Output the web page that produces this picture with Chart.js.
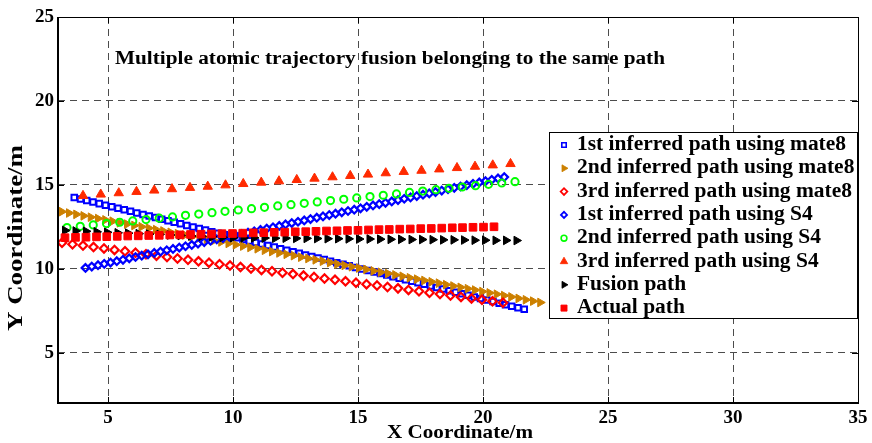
<!DOCTYPE html>
<html><head><meta charset="utf-8">
<script src="https://cdn.jsdelivr.net/npm/chart.js@4/dist/chart.umd.min.js"></script>
<style>html,body{margin:0;padding:0;background:#fff;}#wrap{width:872px;height:443px;}</style>
</head><body><div id="wrap"><canvas id="c" width="872" height="443"></canvas></div>
<script>
// ---------- DATA ----------
const chartTitle = "Multiple atomic trajectory fusion belonging to the same path";
const xAxisTitle = "X Coordinate/m";
const yAxisTitle = "Y Coordinate/m";
const xTickValues = [5, 10, 15, 20, 25, 30, 35];
const yTickValues = [5, 10, 15, 20, 25];
const seriesNames = [
  "1st inferred path using mate8",
  "2nd inferred path using mate8",
  "3rd inferred path using mate8",
  "1st inferred path using S4",
  "2nd inferred path using S4",
  "3rd inferred path using S4",
  "Fusion path",
  "Actual path"
];

const mate8Path1X = [3.65,3.9,4.15,4.4,4.65,4.9,5.15,5.4,5.65,5.9,6.15,6.4,6.65,6.9,7.15,7.4,7.65,7.9,8.15,8.4,8.65,8.9,9.15,9.4,9.65,9.9,10.15,10.4,10.65,10.9,11.15,11.4,11.65,11.9,12.15,12.4,12.65,12.9,13.15,13.4,13.65,13.9,14.15,14.4,14.65,14.9,15.15,15.4,15.65,15.9,16.15,16.4,16.65,16.9,17.15,17.4,17.65,17.9,18.15,18.4,18.65,18.9,19.15,19.4,19.65,19.9,20.15,20.4,20.65,20.9,21.15,21.4,21.65];
const mate8Path1Y = [14.25,14.16,14.06,13.97,13.88,13.79,13.69,13.60,13.51,13.42,13.32,13.23,13.14,13.05,12.95,12.86,12.77,12.68,12.58,12.49,12.40,12.31,12.21,12.12,12.03,11.94,11.84,11.75,11.66,11.57,11.47,11.38,11.29,11.19,11.10,11.01,10.92,10.82,10.73,10.64,10.55,10.45,10.36,10.27,10.18,10.08,9.99,9.90,9.81,9.71,9.62,9.53,9.44,9.34,9.25,9.16,9.07,8.97,8.88,8.79,8.69,8.60,8.51,8.42,8.32,8.23,8.14,8.05,7.95,7.86,7.77,7.68,7.58];

const mate8Path2X = [3.15,3.44,3.73,4.02,4.31,4.60,4.89,5.18,5.47,5.76,6.05,6.34,6.63,6.92,7.21,7.50,7.79,8.08,8.37,8.66,8.95,9.24,9.53,9.82,10.11,10.40,10.69,10.98,11.27,11.56,11.85,12.14,12.43,12.72,13.01,13.30,13.59,13.88,14.17,14.46,14.75,15.04,15.33,15.62,15.91,16.20,16.49,16.78,17.07,17.36,17.65,17.94,18.23,18.52,18.81,19.10,19.39,19.68,19.97,20.26,20.55,20.84,21.13,21.42,21.71,22.00,22.29];
const mate8Path2Y = [13.40,13.32,13.24,13.15,13.07,12.99,12.91,12.83,12.74,12.66,12.58,12.50,12.42,12.33,12.25,12.17,12.09,12.01,11.92,11.84,11.76,11.68,11.60,11.51,11.43,11.35,11.27,11.19,11.10,11.02,10.94,10.86,10.78,10.69,10.61,10.53,10.45,10.37,10.28,10.20,10.12,10.04,9.96,9.87,9.79,9.71,9.63,9.55,9.46,9.38,9.30,9.22,9.14,9.05,8.97,8.89,8.81,8.73,8.64,8.56,8.48,8.40,8.32,8.23,8.15,8.07,7.99];

const mate8Path3X = [3.16,3.58,4.00,4.42,4.84,5.26,5.68,6.10,6.52,6.94,7.36,7.78,8.20,8.62,9.04,9.46,9.88,10.30,10.72,11.14,11.56,11.98,12.40,12.82,13.24,13.66,14.08,14.50,14.92,15.34,15.76,16.18,16.60,17.02,17.44,17.86,18.28,18.70,19.12,19.54,19.96,20.38,20.80];
const mate8Path3Y = [11.55,11.46,11.38,11.29,11.21,11.12,11.04,10.95,10.87,10.78,10.70,10.61,10.53,10.44,10.36,10.27,10.19,10.10,10.02,9.93,9.85,9.76,9.68,9.59,9.51,9.42,9.34,9.25,9.17,9.08,9.00,8.91,8.83,8.74,8.66,8.57,8.49,8.40,8.32,8.23,8.15,8.06,7.97];

const s4Path1X = [4.10,4.35,4.60,4.85,5.10,5.35,5.60,5.85,6.10,6.35,6.60,6.85,7.10,7.35,7.60,7.85,8.10,8.35,8.60,8.85,9.10,9.35,9.60,9.85,10.10,10.35,10.60,10.85,11.10,11.35,11.60,11.85,12.10,12.35,12.60,12.85,13.10,13.35,13.60,13.85,14.10,14.35,14.60,14.85,15.10,15.35,15.60,15.85,16.10,16.35,16.60,16.85,17.10,17.35,17.60,17.85,18.10,18.35,18.60,18.85,19.10,19.35,19.60,19.85,20.10,20.35,20.60,20.85];
const s4Path1Y = [10.05,10.13,10.21,10.29,10.37,10.45,10.53,10.62,10.70,10.78,10.86,10.94,11.02,11.10,11.18,11.26,11.34,11.42,11.50,11.59,11.67,11.75,11.83,11.91,11.99,12.07,12.15,12.23,12.31,12.39,12.47,12.55,12.64,12.72,12.80,12.88,12.96,13.04,13.12,13.20,13.28,13.36,13.44,13.52,13.60,13.69,13.77,13.85,13.93,14.01,14.09,14.17,14.25,14.33,14.41,14.49,14.57,14.66,14.74,14.82,14.90,14.98,15.06,15.14,15.22,15.30,15.38,15.46];

const s4Path2X = [3.36,3.89,4.41,4.94,5.47,5.99,6.52,7.05,7.58,8.10,8.63,9.16,9.68,10.21,10.74,11.26,11.79,12.32,12.85,13.37,13.90,14.43,14.95,15.48,16.01,16.54,17.06,17.59,18.12,18.64,19.17,19.70,20.22,20.75,21.28];
const s4Path2Y = [12.45,12.53,12.61,12.69,12.77,12.85,12.93,13.01,13.09,13.18,13.26,13.34,13.42,13.50,13.58,13.66,13.74,13.82,13.90,13.98,14.06,14.14,14.22,14.30,14.38,14.46,14.55,14.63,14.71,14.79,14.87,14.95,15.03,15.11,15.19];

const s4Path3X = [4.00,4.71,5.43,6.14,6.85,7.56,8.28,8.99,9.70,10.41,11.13,11.84,12.55,13.26,13.98,14.69,15.40,16.11,16.83,17.54,18.25,18.96,19.68,20.39,21.10];
const s4Path3Y = [14.35,14.43,14.51,14.59,14.67,14.75,14.83,14.90,14.98,15.06,15.14,15.22,15.30,15.38,15.46,15.54,15.62,15.70,15.78,15.85,15.93,16.01,16.09,16.17,16.25];

const fusionX = [3.28,3.70,4.12,4.54,4.96,5.38,5.80,6.22,6.64,7.06,7.48,7.90,8.32,8.74,9.16,9.58,10.00,10.42,10.84,11.26,11.68,12.10,12.52,12.94,13.36,13.78,14.20,14.62,15.04,15.46,15.88,16.30,16.72,17.14,17.56,17.98,18.40,18.82,19.24,19.66,20.08,20.50,20.92,21.34];
const fusionY = [12.28,12.25,12.23,12.20,12.17,12.14,12.12,12.09,12.06,12.04,12.01,11.98,11.95,11.93,11.90,11.87,11.85,11.84,11.84,11.83,11.82,11.82,11.81,11.81,11.80,11.79,11.79,11.78,11.77,11.77,11.76,11.75,11.75,11.74,11.74,11.73,11.72,11.72,11.71,11.70,11.70,11.69,11.69,11.68];

const actualX = [3.28,3.70,4.12,4.54,4.95,5.37,5.79,6.21,6.63,7.05,7.47,7.88,8.30,8.72,9.14,9.56,9.98,10.39,10.81,11.23,11.65,12.07,12.49,12.91,13.32,13.74,14.16,14.58,15.00,15.42,15.84,16.25,16.67,17.09,17.51,17.93,18.35,18.77,19.18,19.60,20.02,20.44];
const actualY = [11.85,11.87,11.88,11.90,11.91,11.93,11.95,11.96,11.98,11.99,12.01,12.02,12.04,12.06,12.07,12.09,12.10,12.12,12.14,12.15,12.17,12.18,12.20,12.21,12.23,12.25,12.26,12.28,12.29,12.31,12.33,12.34,12.36,12.37,12.39,12.40,12.42,12.44,12.45,12.47,12.48,12.50];

// ---------- BUILD ----------
const toPts = (xs, ys) => xs.map((x, i) => ({x: x, y: ys[i]}));
const FONT = "'Liberation Serif', 'Times New Roman', serif";

const styles = [
  {pointStyle:'rect',     radius:3.9, rotation:0,  borderColor:'#0000ff', backgroundColor:'rgba(255,255,255,0)', borderWidth:2},
  {pointStyle:'triangle', radius:5.0, rotation:90, borderColor:'#cc8000', backgroundColor:'#cc8000', borderWidth:1},
  {pointStyle:'rectRot',  radius:4.2, rotation:0,  borderColor:'#ff0000', backgroundColor:'rgba(255,255,255,0)', borderWidth:2.2},
  {pointStyle:'rectRot',  radius:3.8, rotation:0,  borderColor:'#0000ff', backgroundColor:'rgba(255,255,255,0)', borderWidth:2.2},
  {pointStyle:'circle',   radius:3.6, rotation:0,  borderColor:'#00ff00', backgroundColor:'rgba(255,255,255,0)', borderWidth:2},
  {pointStyle:'triangle', radius:5.4, rotation:0,  borderColor:'#ff2a00', backgroundColor:'#ff2a00', borderWidth:1},
  {pointStyle:'triangle', radius:5.0, rotation:90, borderColor:'#000000', backgroundColor:'#000000', borderWidth:1},
  {pointStyle:'rect',     radius:5.4, rotation:0,  borderColor:'#ff0000', backgroundColor:'#ff0000', borderWidth:1}
];
const seriesData = [
  toPts(mate8Path1X, mate8Path1Y), toPts(mate8Path2X, mate8Path2Y), toPts(mate8Path3X, mate8Path3Y),
  toPts(s4Path1X, s4Path1Y), toPts(s4Path2X, s4Path2Y), toPts(s4Path3X, s4Path3Y),
  toPts(fusionX, fusionY), toPts(actualX, actualY)
];
const datasets = seriesData.map((d, i) => ({
  label: seriesNames[i], data: d, showLine: false,
  pointStyle: styles[i].pointStyle, pointRadius: styles[i].radius, pointRotation: styles[i].rotation,
  pointBorderColor: styles[i].borderColor, pointBackgroundColor: styles[i].backgroundColor,
  pointBorderWidth: styles[i].borderWidth, pointHoverRadius: styles[i].radius,
  borderColor: styles[i].borderColor, backgroundColor: styles[i].backgroundColor,
  order: seriesNames.length - i
}));

function drawFitText(ctx, text, x, y, size, targetW, align, rot) {
  ctx.save();
  ctx.font = 'bold ' + size + 'px ' + FONT;
  ctx.textBaseline = 'middle';
  ctx.textAlign = 'left';
  const w = ctx.measureText(text).width;
  const sx = targetW ? targetW / w : 1;
  ctx.translate(x, y);
  if (rot) ctx.rotate(rot);
  ctx.scale(sx, 1);
  const ox = align === 'center' ? -w / 2 : 0;
  ctx.fillStyle = '#000';
  ctx.fillText(text, ox, 0);
  ctx.restore();
}

const overlay = {
  id: 'overlay',
  afterDatasetsDraw(chart) {
    const ctx = chart.ctx, a = chart.chartArea;
    const xs = chart.scales.x, ys = chart.scales.y;
    ctx.save();
    ctx.strokeStyle = '#000';
    ctx.lineWidth = 1;
    ctx.beginPath();
    xTickValues.forEach(v => {
      const px = Math.round(xs.getPixelForValue(v)) + 0.5;
      ctx.moveTo(px, a.bottom); ctx.lineTo(px, a.bottom - 6);
      ctx.moveTo(px, a.top); ctx.lineTo(px, a.top + 6);
    });
    yTickValues.forEach(v => {
      const py = Math.round(ys.getPixelForValue(v)) + 0.5;
      ctx.moveTo(a.left, py); ctx.lineTo(a.left + 6, py);
      ctx.moveTo(a.right, py); ctx.lineTo(a.right - 6, py);
    });
    ctx.stroke();
    ctx.lineWidth = 1;
    ctx.beginPath();
    ctx.moveTo(a.left, a.top + 0.5); ctx.lineTo(a.right + 0.5, a.top + 0.5); ctx.lineTo(a.right + 0.5, a.bottom);
    ctx.stroke();
    ctx.lineWidth = 2;
    ctx.beginPath();
    ctx.moveTo(a.left, a.top); ctx.lineTo(a.left, a.bottom); ctx.lineTo(a.right + 1, a.bottom);
    ctx.stroke();
    ctx.restore();
  },
  afterDraw(chart) {
    const ctx = chart.ctx;
    drawFitText(ctx, chartTitle, 115, 59, 18, 550, 'left', 0);
    drawFitText(ctx, xAxisTitle, 460, 433, 19, 146, 'center', 0);
    drawFitText(ctx, yAxisTitle, 17, 238, 21, 186, 'center', -Math.PI / 2);
    const L = {x: 549, y: 132, w: 308, h: 186};
    ctx.save();
    ctx.fillStyle = '#fff';
    ctx.fillRect(L.x, L.y, L.w, L.h);
    ctx.strokeStyle = '#000'; ctx.lineWidth = 1;
    ctx.strokeRect(L.x + 0.5, L.y + 0.5, L.w, L.h);
    ctx.restore();
    ctx.save();
    ctx.font = 'bold 20px ' + FONT;
    const refW = ctx.measureText(seriesNames[0]).width;
    ctx.restore();
    const sc = 269 / refW;
    seriesNames.forEach((name, i) => {
      const cy = 145 + i * 23.3;
      const s = styles[i];
      ctx.save();
      ctx.strokeStyle = s.borderColor; ctx.fillStyle = s.backgroundColor;
      ctx.lineWidth = s.borderWidth * 0.8;
      Chart.helpers.drawPoint(ctx, {pointStyle: s.pointStyle, radius: s.radius * 0.8, rotation: s.rotation, borderWidth: s.borderWidth * 0.8}, 564, cy);
      ctx.restore();
      ctx.save();
      ctx.font = 'bold 20px ' + FONT;
      const w = ctx.measureText(name).width;
      ctx.restore();
      drawFitText(ctx, name, 577, cy, 20, w * sc, 'left', 0);
    });
  }
};

new Chart(document.getElementById('c'), {
  type: 'scatter',
  data: {datasets: datasets},
  options: {
    responsive: false, animation: false, devicePixelRatio: 1,
    layout: {padding: {top: 17, right: 14, left: 0, bottom: 0}},
    plugins: {legend: {display: false}, tooltip: {enabled: false}, title: {display: false}},
    scales: {
      x: {
        type: 'linear', min: 3, max: 35,
        afterBuildTicks: s => { s.ticks = xTickValues.map(v => ({value: v})); },
        afterFit: s => { s.height = 40; },
        grid: {color: 'rgba(0,0,0,0.7)', lineWidth: 1, drawTicks: false},
        border: {display: false, dash: [7, 5]},
        ticks: {color: '#000', padding: 4, font: {family: FONT, size: 19, weight: 'bold'}, maxRotation: 0}
      },
      y: {
        type: 'linear', min: 2, max: 25,
        afterBuildTicks: s => { s.ticks = yTickValues.map(v => ({value: v})); },
        afterFit: s => { s.width = 58; },
        grid: {color: 'rgba(0,0,0,0.7)', lineWidth: 1, drawTicks: false},
        border: {display: false, dash: [7, 5]},
        ticks: {color: '#000', padding: 4, font: {family: FONT, size: 19, weight: 'bold'}}
      }
    }
  },
  plugins: [overlay]
});
</script></body></html>
